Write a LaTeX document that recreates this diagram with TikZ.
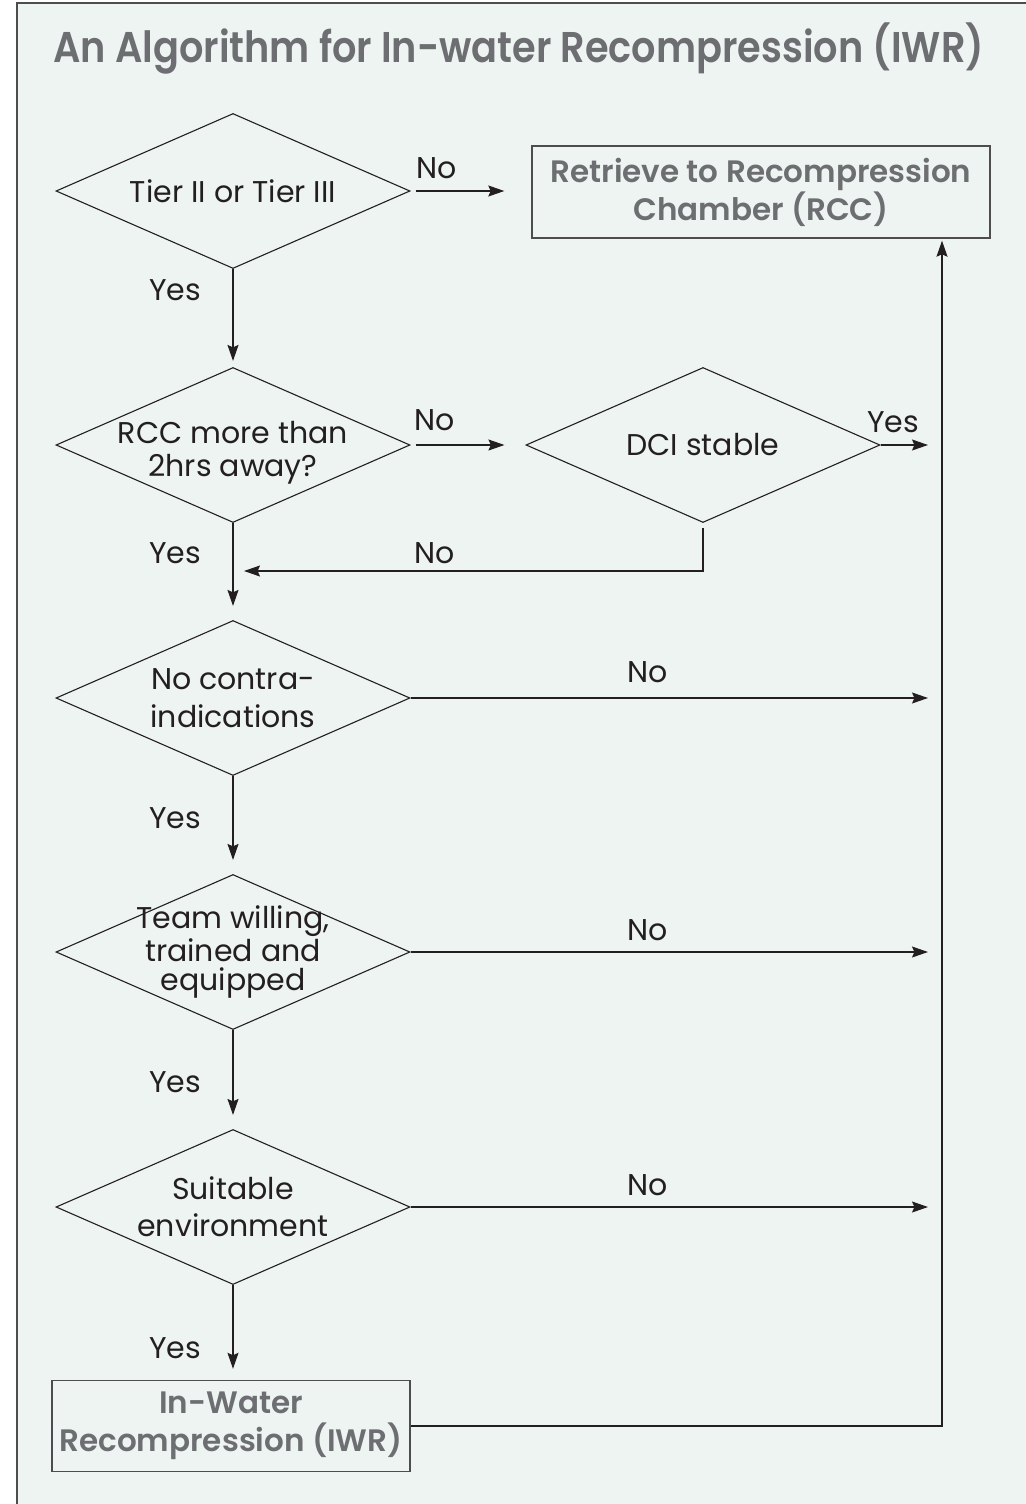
\documentclass[tikz,border=0pt]{standalone}
\usepackage{fontspec}
\setmainfont{Poppins}
\newfontfamily\headfont{Poppins SemiBold}
\newfontfamily\titlefont{Poppins SemiBold}[FakeStretch = 0.89]
\usepackage{xcolor}
\usetikzlibrary{shapes.geometric,arrows.meta}
\definecolor{paper}{HTML}{EEF4F2}
\definecolor{ink}{HTML}{231F20}
\definecolor{headgrey}{HTML}{6D6E71}
\definecolor{framegrey}{HTML}{4D4D4F}

\begin{document}
\begin{tikzpicture}[
  x = 0.5pt, y = -0.5pt,
  every node/.style = {text = ink, font = \fontsize{15}{19}\selectfont},
  decision/.style = {diamond, draw = ink, line width = 0.55pt, aspect = 2.28,
                     minimum width = 177pt, minimum height = 77.5pt, inner sep = 0pt},
  dtext/.style = {align = center, inner sep = 0pt, font = \fontsize{15}{#1}\selectfont},
  dtext/.default = 19,
  outcome/.style = {draw = framegrey, line width = 0.7pt, align = center, text = headgrey,
                    font = \fontsize{15.5}{19}\selectfont\headfont},
  flow/.style = {draw = ink, line width = 0.6pt,
                 -{Stealth[length = 8pt, width = 5.5pt, inset = 1.2pt]}},
  lbl/.style = {inner sep = 0pt}
  ]
  \useasboundingbox (0,0) rectangle (1025,1504);
  \fill[paper] (17,3) rectangle (1040,1520);
  \draw[framegrey, line width = 1pt] (17,1520) -- (17,3) -- (1040,3);
  \node[anchor = base west, inner sep = 0pt, text = headgrey,
        font = \fontsize{21.5}{26}\selectfont\titlefont]
    (title) at (53,63) {An Algorithm for In-water Recompression (IWR)};

  \node[decision, label = {[dtext]center:Tier II or Tier III}] (tier) at (233,191) {};
  \node[decision, label = {[dtext = 16.5, yshift = -4pt]center:RCC more than\\2hrs away?}] (away) at (233,445) {};
  \node[decision, label = {[dtext]center:DCI stable}] (dci) at (703,445) {};
  \node[decision, label = {[dtext]center:No contra-\\indications}] (contra) at (233,698) {};
  \node[decision, label = {[dtext = 14.5]center:Team willing,\\trained and\\equipped}] (team) at (233,952) {};
  \node[decision, label = {[dtext = 18.5]center:Suitable\\environment}] (suitable) at (233,1207) {};

  \node[outcome, minimum width = 229pt, minimum height = 46pt] (rcc) at (761,192)
    {Retrieve to Recompression\\Chamber (RCC)};
  \node[outcome, minimum width = 179pt, minimum height = 45.5pt] (iwr) at (231,1426)
    {In-Water\\Recompression (IWR)};

  \coordinate (rail) at (942,1426);
  \coordinate (merge) at (233,571);

  \draw[flow, shorten <= 2.5pt, shorten >= 13.5pt] (tier.east) -- (rcc.west |- tier.east);
  \draw[flow, shorten >= 3pt] (tier.south) -- (away.north);
  \draw[flow, shorten <= 2.5pt, shorten >= 10.5pt] (away.east) -- (dci.west);
  \draw[flow, shorten >= 7pt] (dci.east) -- (dci.east -| rail);
  \draw[flow, shorten <= 2.5pt, shorten >= 5.5pt] (dci.south) |- (merge);
  \draw[flow, shorten >= 7pt] (away.south) -- (contra.north);
  \draw[flow, shorten >= 7pt] (contra.east) -- (contra.east -| rail);
  \draw[flow, shorten >= 7pt] (contra.south) -- (team.north);
  \draw[flow, shorten >= 7pt] (team.east) -- (team.east -| rail);
  \draw[flow, shorten >= 7pt] (team.south) -- (suitable.north);
  \draw[flow, shorten >= 7pt] (suitable.east) -- (suitable.east -| rail);
  \draw[flow, shorten >= 5.5pt] (suitable.south) -- (suitable.south |- iwr.north);
  \draw[flow, shorten >= 1pt] (iwr.east) -| (rcc.south -| rail);

  \node[lbl] (no1) at (437,168) {No};
  \node[lbl] (yes1) at (175,290) {Yes};
  \node[lbl] (no2) at (435,420) {No};
  \node[lbl] (yes2) at (893,422) {Yes};
  \node[lbl] (yes3) at (175,553) {Yes};
  \node[lbl] (no3) at (435,553) {No};
  \node[lbl] (no4) at (648,672) {No};
  \node[lbl] (yes4) at (175,818) {Yes};
  \node[lbl] (no5) at (648,930) {No};
  \node[lbl] (yes5) at (175,1082) {Yes};
  \node[lbl] (no6) at (648,1185) {No};
  \node[lbl] (yes6) at (175,1348) {Yes};
\end{tikzpicture}
\end{document}
